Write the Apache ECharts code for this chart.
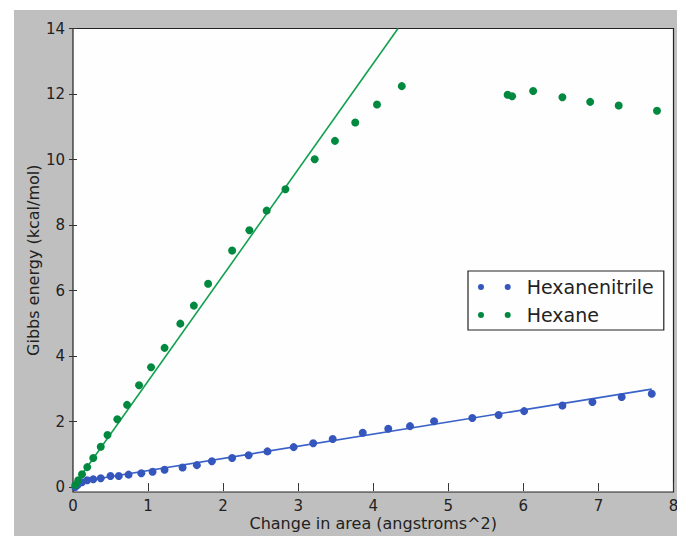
<!DOCTYPE html>
<html>
<head>
<meta charset="utf-8">
<script src="https://cdn.jsdelivr.net/npm/echarts@6/dist/echarts.min.js"></script>
<style>
  html, body { margin: 0; padding: 0; background: #ffffff; overflow: hidden; }
  #wrap { position: relative; width: 677px; height: 536px; }
  #bg { position: absolute; left: 14px; top: 10px; right: 0; bottom: 0; background: #bfbfbf; }
  #chart { position: absolute; left: 0; top: 0; width: 677px; height: 536px; }
</style>
</head>
<body>
<div id="wrap"><div id="bg"></div><div id="chart"></div></div>
<script>
// ---- data ----
const hexanenitrileX = [0.03,0.06,0.12,0.19,0.27,0.37,0.50,0.61,0.74,0.91,1.06,1.22,1.46,1.65,1.85,2.12,2.34,2.59,2.94,3.20,3.46,3.86,4.20,4.49,4.81,5.32,5.67,6.01,6.52,6.92,7.31,7.71];
const hexanenitrileY = [0.00,0.06,0.15,0.21,0.24,0.27,0.34,0.34,0.38,0.42,0.47,0.53,0.60,0.67,0.79,0.89,0.97,1.09,1.22,1.34,1.47,1.66,1.78,1.86,2.01,2.11,2.20,2.32,2.49,2.60,2.75,2.85];
const hexaneX = [0.03,0.07,0.12,0.19,0.27,0.37,0.46,0.59,0.72,0.88,1.04,1.22,1.43,1.61,1.80,2.12,2.35,2.58,2.83,3.22,3.49,3.76,4.05,4.38,5.79,5.85,6.13,6.52,6.89,7.27,7.78];
const hexaneY = [0.06,0.21,0.39,0.61,0.89,1.23,1.59,2.07,2.51,3.11,3.66,4.25,4.99,5.54,6.21,7.22,7.84,8.44,9.09,10.01,10.57,11.13,11.68,12.24,11.98,11.93,12.09,11.90,11.76,11.65,11.49];
const hexanenitrileFitX = [0, 0.06, 0.12, 7.71];
const hexanenitrileFitY = [0, 0.10, 0.18, 2.99];
const hexaneFitX = [0, 4.33];
const hexaneFitY = [0, 14];
const xTicks = [0,1,2,3,4,5,6,7,8];
const yTicks = [0,2,4,6,8,10,12,14];
const seriesNames = ['Hexanenitrile', 'Hexane'];

const zip = (xs, ys) => xs.map((x, i) => [x, ys[i]]);
const BLUE = '#3556bd';
const GREEN = '#00893f';
const FONT = 'DejaVu Sans';

const chart = echarts.init(document.getElementById('chart'), null, { renderer: 'svg' });

const tickStyle = { show: true, inside: true, length: 4, lineStyle: { color: '#333', width: 1 } };

const twoDots = 'path://M0,3a3,3 0 1,0 6,0a3,3 0 1,0 -6,0Z M26.7,3a3,3 0 1,0 6,0a3,3 0 1,0 -6,0Z';

chart.setOption({
  backgroundColor: 'transparent',
  animation: false,
  textStyle: { fontFamily: FONT },
  grid: {
    left: 73, top: 28.5, right: 3.5, bottom: 44,
    show: true, backgroundColor: '#fefefe', borderColor: '#222', borderWidth: 1.2,
    containLabel: false,
    outerBoundsMode: 'none'
  },
  legend: {
    data: seriesNames,
    orient: 'vertical',
    left: 468, top: 271,
    padding: [6, 10, 5, 10],
    itemGap: 8,
    itemWidth: 32.7, itemHeight: 6,
    icon: twoDots,
    backgroundColor: '#fefefe',
    borderColor: '#222', borderWidth: 1.2, borderRadius: 0,
    textStyle: { fontFamily: FONT, fontSize: 19, color: '#222', lineHeight: 20, padding: [0, 0, 0, 11] }
  },
  xAxis: [{
    type: 'value', min: 0, max: 8, interval: 1,
    name: 'Change in area (angstroms^2)', nameLocation: 'middle', nameGap: 23, nameMoveOverlap: false,
    nameTextStyle: { fontFamily: FONT, fontSize: 16, color: '#222' },
    axisLine: { show: false },
    axisTick: Object.assign({ customValues: xTicks }, tickStyle),
    axisLabel: { customValues: xTicks, fontFamily: FONT, fontSize: 15, color: '#222', margin: 6 },
    splitLine: { show: false }
  }, {
    type: 'value', min: 0, max: 8, interval: 1, position: 'top',
    axisLine: { show: false },
    axisTick: Object.assign({ customValues: xTicks }, tickStyle),
    axisLabel: { show: false },
    splitLine: { show: false }
  }],
  yAxis: [{
    type: 'value', min: -0.15, max: 14,
    name: 'Gibbs energy (kcal/mol)', nameLocation: 'middle', nameGap: 32, nameRotate: 90, nameMoveOverlap: false,
    nameTextStyle: { fontFamily: FONT, fontSize: 16, color: '#222' },
    axisLine: { show: false },
    axisTick: Object.assign({ customValues: yTicks }, tickStyle),
    axisLabel: { customValues: yTicks, fontFamily: FONT, fontSize: 15, color: '#222', margin: 8 },
    splitLine: { show: false }
  }, {
    type: 'value', min: -0.15, max: 14, position: 'right',
    axisLine: { show: false },
    axisTick: Object.assign({ customValues: yTicks }, tickStyle),
    axisLabel: { show: false },
    splitLine: { show: false }
  }],
  series: [
    {
      name: 'Hexanenitrile fit', type: 'line', xAxisIndex: 0, yAxisIndex: 0,
      data: zip(hexanenitrileFitX, hexanenitrileFitY), showSymbol: false, symbol: 'none',
      lineStyle: { color: '#3a62c8', width: 1.6 }, itemStyle: { color: '#3a62c8' }, z: 2, silent: true
    },
    {
      name: 'Hexane fit', type: 'line', xAxisIndex: 0, yAxisIndex: 0,
      data: zip(hexaneFitX, hexaneFitY), showSymbol: false, symbol: 'none',
      lineStyle: { color: '#12a050', width: 1.6 }, itemStyle: { color: '#12a050' }, z: 2, silent: true
    },
    {
      name: seriesNames[0], type: 'scatter', xAxisIndex: 0, yAxisIndex: 0,
      data: zip(hexanenitrileX, hexanenitrileY), symbol: 'circle', symbolSize: 8,
      itemStyle: { color: BLUE, opacity: 1 }, z: 3
    },
    {
      name: seriesNames[1], type: 'scatter', xAxisIndex: 0, yAxisIndex: 0,
      data: zip(hexaneX, hexaneY), symbol: 'circle', symbolSize: 8,
      itemStyle: { color: GREEN, opacity: 1 }, z: 3
    }
  ]
});
</script>
</body>
</html>
